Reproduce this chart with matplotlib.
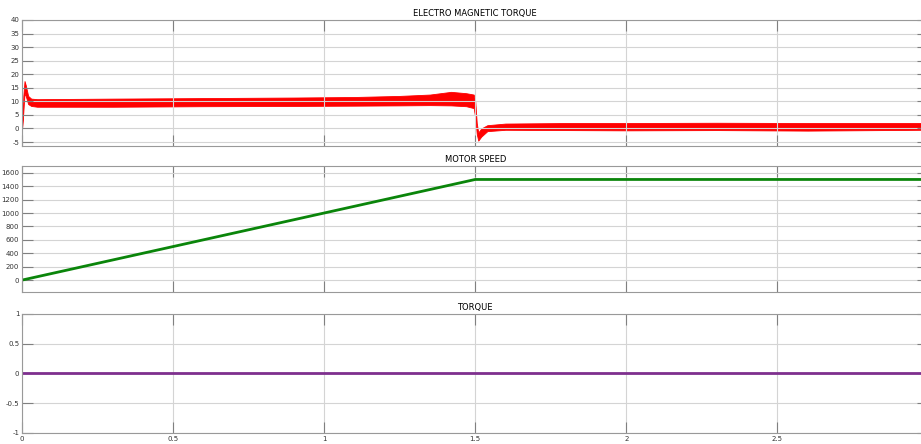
import matplotlib
matplotlib.use("Agg")
import matplotlib.pyplot as plt

# electromagnetic torque, read as an envelope (low / high) of the noisy trace
te_t = [0, 0.004, 0.008, 0.012, 0.02, 0.03, 0.05, 0.3, 0.6, 0.9, 1.1, 1.25, 1.35, 1.42, 1.47, 1.495, 1.5, 1.505, 1.51, 1.52, 1.54, 1.6, 1.8, 2.0, 2.3, 2.6, 2.98]
te_lo = [0, 6, 13, 12, 9, 8.3, 8, 8, 8.2, 8.3, 8.4, 8.5, 8.6, 8.5, 8.2, 7.5, 4, -2, -4.5, -3, -1, -0.5, -0.6, -0.7, -0.6, -0.8, -0.5]
te_hi = [0.5, 12, 17.5, 16, 12, 11, 10.8, 11, 11.2, 11.4, 11.6, 12, 12.5, 13.5, 13, 12.5, 10, 2, -1.5, 0, 1.2, 1.8, 2, 2, 2.1, 2, 2]

speed_t = [0, 1.5, 2.98]
speed = [0, 1500, 1500]

load_t = [0, 2.98]
load = [0, 0]

x_ticks = [0, 0.5, 1, 1.5, 2, 2.5]
x_labels = ["0", "0.5", "1", "1.5", "2", "2.5"]


def style(ax, yticks, ylim, title):
    ax.set_xlim(0, 3)
    ax.set_ylim(*ylim)
    ax.set_xticks(x_ticks)
    ax.set_yticks(yticks)
    ax.grid(True, color="#d4d4d4", linewidth=0.8)
    ax.tick_params(direction="in", length=8, width=0.8, color="#808080",
                   labelsize=5, labelcolor="#333333", pad=2,
                   top=True, right=True)
    for s in ax.spines.values():
        s.set_color("#999999")
        s.set_linewidth(0.8)
    ax.set_title(title, fontsize=6, pad=3)


fig = plt.figure(figsize=(9.21, 4.44), dpi=100)

ax1 = fig.add_axes([0.024, 0.671, 0.984, 0.284])
ax1.fill_between(te_t, te_lo, te_hi, color="red", linewidth=0.6, edgecolor="red")
style(ax1, list(range(-5, 41, 5)), (-6.5, 40), "ELECTRO MAGNETIC TORQUE")
ax1.set_yticklabels([str(v) for v in range(-5, 41, 5)])
ax1.set_xticklabels([])

ax2 = fig.add_axes([0.024, 0.342, 0.984, 0.284])
ax2.plot(speed_t, speed, color="#0a850a", linewidth=2)
style(ax2, list(range(0, 1601, 200)), (-180, 1700), "MOTOR SPEED")
ax2.set_xticklabels([])

ax3 = fig.add_axes([0.024, 0.025, 0.984, 0.268])
ax3.plot(load_t, load, color="#7e2f8e", linewidth=2)
style(ax3, [-1, -0.5, 0, 0.5, 1], (-1, 1), "TORQUE")
ax3.set_yticklabels(["-1", "-0.5", "0", "0.5", "1"])
ax3.set_xticklabels(x_labels)

fig.savefig("out.png", dpi=100)
